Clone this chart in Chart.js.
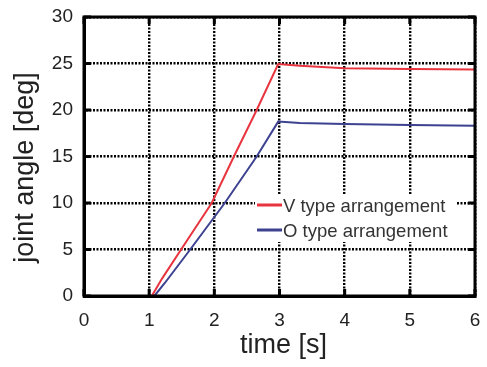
<!DOCTYPE html>
<html>
<head>
<meta charset="utf-8">
<script src="https://cdn.jsdelivr.net/npm/chart.js@4.4.0/dist/chart.umd.min.js"></script>
<style>
html, body { margin: 0; padding: 0; background: #fff; }
#wrap { width: 487px; height: 367px; }
</style>
</head>
<body>
<div id="wrap"><canvas id="chart"></canvas></div>
<script>
// joint angle [deg] over time [s] for both arrangements
const vTime  = [1.04, 1.2, 1.49, 1.96, 2.30, 2.65, 2.98, 3.31, 4.0, 5.0, 6.0];
const vAngle = [0, 1.9, 5.0, 10.0, 15.0, 20.0, 24.95, 24.75, 24.5, 24.4, 24.35];
const oTime  = [1.08, 1.24, 1.63, 2.16, 2.65, 2.98, 3.31, 4.0, 5.0, 6.0];
const oAngle = [0, 1.4, 5.0, 10.0, 15.0, 18.75, 18.6, 18.5, 18.4, 18.3];
const seriesNames = ['V type arrangement', 'O type arrangement'];
const xTicks = [0, 1, 2, 3, 4, 5, 6];
const yTicks = [0, 5, 10, 15, 20, 25, 30];

const FONT = '"Liberation Sans", Arial, sans-serif';

function toPoints(xs, ys) {
  return xs.map((t, i) => ({ x: t, y: ys[i] }));
}

// frame on all four sides, inward tick marks, axis titles and legend box
const decorations = {
  id: 'decorations',
  afterDraw(chart) {
    const { ctx, chartArea: a, scales: { x, y } } = chart;
    ctx.save();
    ctx.strokeStyle = '#000';
    ctx.lineWidth = 3;
    ctx.strokeRect(a.left, a.top, a.right - a.left, a.bottom - a.top);

    const len = 7;
    ctx.beginPath();
    xTicks.forEach(v => {
      const px = x.getPixelForValue(v);
      ctx.moveTo(px, a.bottom); ctx.lineTo(px, a.bottom - len);
      ctx.moveTo(px, a.top); ctx.lineTo(px, a.top + len);
    });
    yTicks.forEach(v => {
      const py = y.getPixelForValue(v);
      ctx.moveTo(a.left, py); ctx.lineTo(a.left + len, py);
      ctx.moveTo(a.right, py); ctx.lineTo(a.right - len, py);
    });
    ctx.stroke();

    // axis titles
    ctx.fillStyle = '#222';
    ctx.font = '27px ' + FONT;
    ctx.textAlign = 'center';
    ctx.textBaseline = 'middle';
    ctx.fillText('time [s]', (a.left + a.right) / 2 + 4, a.bottom + 50);
    ctx.save();
    ctx.translate(26, (a.top + a.bottom) / 2 + 11);
    ctx.rotate(-Math.PI / 2);
    ctx.fillText('joint angle [deg]', 0, 0);
    ctx.restore();

    // legend
    const bx = a.left + 171, by = a.top + 178;
    ctx.fillStyle = '#fff';
    ctx.fillRect(bx, by, 202, 47);
    ctx.font = '18.5px ' + FONT;
    ctx.textAlign = 'left';
    chart.data.datasets.forEach((ds, i) => {
      const ly = by + 10 + i * 25;
      ctx.strokeStyle = ds.borderColor;
      ctx.lineWidth = 3;
      ctx.beginPath();
      ctx.moveTo(bx + 2, ly);
      ctx.lineTo(bx + 27, ly);
      ctx.stroke();
      ctx.fillStyle = '#333';
      ctx.fillText(ds.label, bx + 28, ly + 2);
    });
    ctx.restore();
  }
};

const ctx = document.getElementById('chart').getContext('2d');

const chart = new Chart(ctx, {
  type: 'line',
  data: {
    datasets: [{
      label: seriesNames[0],
      data: toPoints(vTime, vAngle),
      borderColor: '#e8343f',
      borderWidth: 2,
      pointRadius: 0,
      tension: 0
    }, {
      label: seriesNames[1],
      data: toPoints(oTime, oAngle),
      borderColor: '#3c4190',
      borderWidth: 2,
      pointRadius: 0,
      tension: 0
    }]
  },
  options: {
    responsive: true,
    maintainAspectRatio: false,
    animation: false,
    devicePixelRatio: 1,
    layout: { padding: { top: 17, right: 12, left: 0, bottom: 0 } },
    plugins: {
      legend: { display: false },
      tooltip: { enabled: false }
    },
    scales: {
      x: {
        type: 'linear',
        min: 0,
        max: 6,
        afterBuildTicks: s => { s.ticks = xTicks.map(v => ({ value: v })); },
        afterFit: s => { s.height = 71; s.paddingLeft = 0; s.paddingRight = 0; },
        ticks: { color: '#222', font: { family: FONT, size: 19 }, padding: 13 },
        grid: { color: '#000', lineWidth: 2.4, drawTicks: false },
        border: { color: '#000', width: 3, dash: [2, 1.5] }
      },
      y: {
        min: 0,
        max: 30,
        afterBuildTicks: s => { s.ticks = yTicks.map(v => ({ value: v })); },
        afterFit: s => { s.width = 84; s.paddingTop = 0; s.paddingBottom = 0; },
        ticks: { color: '#222', font: { family: FONT, size: 19 }, padding: 11 },
        grid: { color: '#000', lineWidth: 2.4, drawTicks: false },
        border: { color: '#000', width: 3, dash: [2, 1.5] }
      }
    }
  },
  plugins: [decorations]
});
</script>
</body>
</html>
